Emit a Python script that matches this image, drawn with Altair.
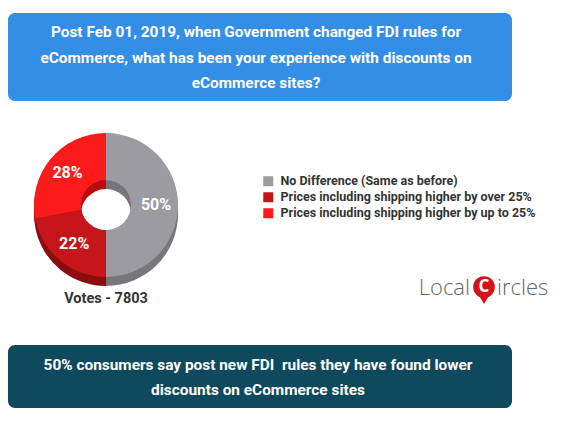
import altair as alt
import pandas as pd

# ---- data ----
categories = [
    "No Difference (Same as before)",
    "Prices including shipping higher by over 25%",
    "Prices including shipping higher by up to 25%",
]
values = [50, 22, 28]
labels = ["50%", "22%", "28%"]
top_colors = ["#9c9ca0", "#c4161b", "#fc1b1b"]
side_colors = ["#77777b", "#8c0d10", "#b50f0f"]

title_lines = [
    "Post Feb 01, 2019, when Government changed FDI rules for",
    "eCommerce, what has been your experience with discounts on",
    "eCommerce sites?",
]
footer_lines = [
    "50% consumers say post new FDI\u00a0 rules they have found lower",
    "discounts on eCommerce sites",
]
votes_text = "Votes - 7803"

FONT = "Roboto, Liberation Sans, sans-serif"

df = pd.DataFrame({
    "category": categories,
    "value": values,
    "label": labels,
    "order": list(range(len(categories))),
})
df["side"] = df["category"] + " side"

one = alt.Data(values=[{}])

CX, CY = 98, 197
R_OUT, R_IN = 72, 25
DEPTH = 9

# ---- banners ----
top_banner = alt.Chart(one).mark_rect(color="#338ee6", cornerRadius=7).encode(
    x=alt.value(0), x2=alt.value(504), y=alt.value(5), y2=alt.value(93)
)
top_text = alt.Chart(one).mark_text(
    text=title_lines, font=FONT, fontSize=15.4, fontWeight="bold", color="white",
    lineHeight=25.5, align="center", baseline="middle"
).encode(x=alt.value(248), y=alt.value(24))

bottom_banner = alt.Chart(one).mark_rect(color="#0e495d", cornerRadius=7).encode(
    x=alt.value(0), x2=alt.value(504), y=alt.value(337), y2=alt.value(400)
)
bottom_text = alt.Chart(one).mark_text(
    text=footer_lines, font=FONT, fontSize=15.4, fontWeight="bold", color="white",
    lineHeight=25, align="center", baseline="middle"
).encode(x=alt.value(250), y=alt.value(357))

# ---- donut (pseudo 3D) ----
base = alt.Chart(df)
side_layers = []
for k in [DEPTH, DEPTH * 2 // 3, DEPTH // 3]:
    side_layers.append(
        base.mark_arc(outerRadius=R_OUT, innerRadius=R_IN).encode(
            theta=alt.Theta("value:Q", stack=True),
            order=alt.Order("order:Q"),
            color=alt.Color("side:N", scale=alt.Scale(domain=list(df["side"]), range=side_colors), legend=None),
            x=alt.value(CX), y=alt.value(CY + k),
        )
    )
side = alt.layer(*side_layers)

top_arc = base.mark_arc(outerRadius=R_OUT, innerRadius=R_IN).encode(
    theta=alt.Theta("value:Q", stack=True),
    order=alt.Order("order:Q"),
    color=alt.Color(
        "category:N",
        scale=alt.Scale(domain=categories, range=top_colors),
        sort=categories,
        legend=alt.Legend(
            title=None, orient="none", legendX=254, legendY=167,
            symbolType="square", symbolSize=100, symbolStrokeWidth=0,
            labelFont=FONT, labelFontSize=12.5, labelFontWeight="bold",
            labelColor="#333333", labelOffset=6, rowPadding=3, labelLimit=400,
        ),
    ),
    x=alt.value(CX), y=alt.value(CY),
)

arc_text = base.mark_text(
    radius=50, font=FONT, fontSize=16, fontWeight="bold", color="white"
).encode(
    theta=alt.Theta("value:Q", stack=True),
    order=alt.Order("order:Q"),
    text="label:N",
    x=alt.value(CX), y=alt.value(CY),
)

votes = alt.Chart(one).mark_text(
    text=votes_text, font=FONT, fontSize=14.5, fontWeight="bold", color="#333333",
    align="center", baseline="middle"
).encode(x=alt.value(CX), y=alt.value(291))

# ---- logo ----
LOGO_FONT = "Open Sans, Lato, sans-serif"
logo_local = alt.Chart(one).mark_text(
    text="Local", font=LOGO_FONT, fontSize=22, fontWeight=300,
    color="#666666", align="right", baseline="alphabetic"
).encode(x=alt.value(462), y=alt.value(287))
logo_pin = alt.Chart(one).mark_point(
    shape="triangle-down", filled=True, color="#d0141a", size=90, opacity=1
).encode(x=alt.value(476), y=alt.value(292))
logo_circle = alt.Chart(one).mark_point(
    shape="circle", filled=True, color="#d0141a", size=470, opacity=1
).encode(x=alt.value(476), y=alt.value(279))
logo_c = alt.Chart(one).mark_text(
    text="C", font=LOGO_FONT, fontSize=17, fontWeight="bold",
    color="white", align="center", baseline="middle"
).encode(x=alt.value(476), y=alt.value(279))
logo_rest = alt.Chart(one).mark_text(
    text="ircles", font=LOGO_FONT, fontSize=22, fontWeight=300,
    color="#666666", align="left", baseline="alphabetic"
).encode(x=alt.value(489), y=alt.value(287))

chart = alt.layer(
    top_banner, top_text, bottom_banner, bottom_text,
    side, top_arc, arc_text, votes,
    logo_local, logo_pin, logo_circle, logo_c, logo_rest,
).resolve_scale(color="independent").properties(
    width=547, height=419, padding=0, background="white",
    autosize=alt.AutoSizeParams(type="none"),
).configure_view(stroke=None)

chart.save("out.html", embed_options={"renderer": "svg", "actions": False})
